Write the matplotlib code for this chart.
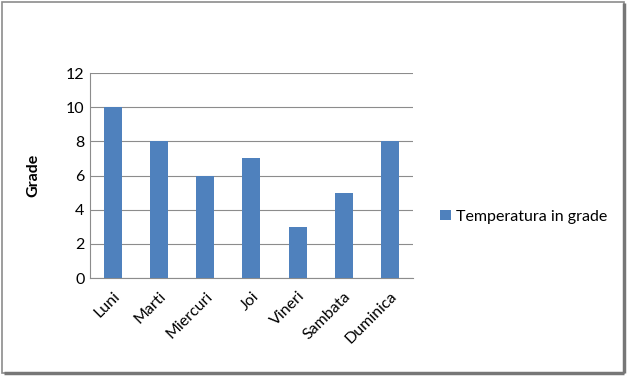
import matplotlib.pyplot as plt
from matplotlib.patches import Rectangle

zile = ['Luni', 'Marti', 'Miercuri', 'Joi', 'Vineri', 'Sambata', 'Duminica']
temperatura = [10, 8, 6, 7, 3, 5, 8]
serie = 'Temperatura in grade'

plt.rcParams['font.family'] = ['Lato', 'DejaVu Sans']

fig = plt.figure(figsize=(6.27, 3.76), dpi=100)
ax = fig.add_axes([0.1435, 0.2606, 0.5152, 0.5452])

ax.bar(range(len(zile)), temperatura, width=0.39, color='#4f81bd', label=serie, zorder=3)
ax.set_xlim(-0.5, len(zile) - 0.5)
ax.set_ylim(0, 12)
ax.set_yticks(range(0, 13, 2))
ax.set_xticks(range(len(zile)))
ax.set_xticklabels(zile, rotation=45, ha='right', rotation_mode='anchor', fontsize=11.5)
ax.tick_params(axis='y', labelsize=11.5, length=0, pad=4)
ax.tick_params(axis='x', length=0, pad=8)
ax.yaxis.grid(True, color='#8c8c8c', linewidth=0.8, zorder=0)
for s in ['top', 'right']:
    ax.spines[s].set_visible(False)
ax.spines['left'].set_color('#8c8c8c')
ax.spines['bottom'].set_color('#8c8c8c')
ax.set_ylabel('Grade', fontsize=11.5, fontweight='bold', labelpad=18)

ax.legend(loc='center left', bbox_to_anchor=(1.04, 0.3), frameon=False,
          fontsize=11.5, handlelength=0.65, handleheight=0.65, handletextpad=0.35)

# chenar cu umbra
fig.patches.append(Rectangle((0.003, 0.008), 0.993, 0.988, transform=fig.transFigure,
                             fill=False, edgecolor='#8c8c8c', linewidth=1.2))
fig.patches.append(Rectangle((0.996, 0.008), 0.0, 0.985, transform=fig.transFigure,
                             fill=False, edgecolor='#777777', linewidth=2.5))
fig.patches.append(Rectangle((0.006, 0.008), 0.99, 0.0, transform=fig.transFigure,
                             fill=False, edgecolor='#777777', linewidth=2.5))

fig.savefig('out.png', dpi=100)
